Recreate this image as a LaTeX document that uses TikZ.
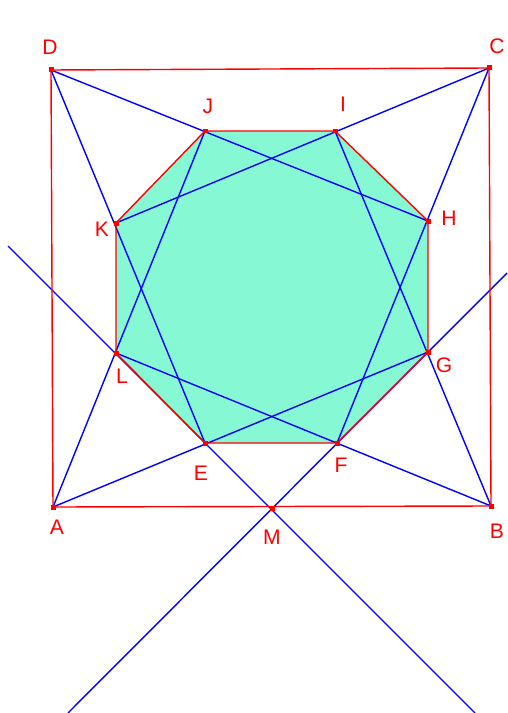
\documentclass[tikz,border=0pt]{standalone}
\usepackage{fontspec}
\setmainfont{Liberation Sans}
\definecolor{mint}{RGB}{134,248,212}
\tikzset{
  ptmark/.style={fill=red, inner sep=0pt, minimum size=1mm},
  ptlabel/.style={text=red, font=\fontsize{12}{14}\selectfont, inner sep=0pt},
  redline/.style={red, line width=0.8pt},
  blueline/.style={blue, line width=0.8pt}
}
\begin{document}
\begin{tikzpicture}[x=0.02cm,y=-0.02cm]
  \useasboundingbox (0,0) rectangle (507,713);
  % the square ABCD
  \coordinate (A) at (53,507);
  \coordinate (B) at (491,506);
  \coordinate (C) at (489,68);
  \coordinate (D) at (51,70);
  \coordinate (M) at (272,508);
  % the octagon
  \coordinate (J) at (205,131);
  \coordinate (I) at (335,131);
  \coordinate (H) at (428,221);
  \coordinate (G) at (428,352);
  \coordinate (F) at (337,443);
  \coordinate (E) at (205,443);
  \coordinate (L) at (116,353);
  \coordinate (K) at (116,223);
  % ends of the two long lines
  \coordinate (U1) at (8,246);
  \coordinate (U2) at (475,713);
  \coordinate (V1) at (68,713);
  \coordinate (V2) at (507,273);
  \fill[mint] (J) -- (I) -- (H) -- (G) -- (F) -- (E) -- (L) -- (K) -- cycle;
  % blue lines
  \draw[blueline] (D) -- (H);
  \draw[blueline] (D) -- (E);
  \draw[blueline] (C) -- (K);
  \draw[blueline] (C) -- (F);
  \draw[blueline] (B) -- (L);
  \draw[blueline] (B) -- (I);
  \draw[blueline] (A) -- (G);
  \draw[blueline] (A) -- (J);
  \draw[blueline] (U1) -- (U2);
  \draw[blueline] (V1) -- (V2);
  % red outlines
  \draw[redline] (A) -- (B) -- (C) -- (D) -- cycle;
  \draw[redline] (J) -- (I) -- (H) -- (G) -- (F) -- (E) -- (L) -- (K) -- cycle;
  % points
  \node[ptmark] (mA) at (A) {};
  \node[ptmark] (mB) at (B) {};
  \node[ptmark] (mC) at (C) {};
  \node[ptmark] (mD) at (D) {};
  \node[ptmark] (mM) at (M) {};
  \node[ptmark] (mJ) at (J) {};
  \node[ptmark] (mI) at (I) {};
  \node[ptmark] (mH) at (H) {};
  \node[ptmark] (mG) at (G) {};
  \node[ptmark] (mF) at (F) {};
  \node[ptmark] (mE) at (E) {};
  \node[ptmark] (mL) at (L) {};
  \node[ptmark] (mK) at (K) {};
  % labels
  \node[ptlabel] (lD) at (50,47) {D};
  \node[ptlabel] (lC) at (497,46) {C};
  \node[ptlabel] (lJ) at (208,106) {J};
  \node[ptlabel] (lI) at (343,104) {I};
  \node[ptlabel] (lH) at (449,218) {H};
  \node[ptlabel] (lK) at (102,229) {K};
  \node[ptlabel] (lG) at (444,365) {G};
  \node[ptlabel] (lL) at (122,376) {L};
  \node[ptlabel] (lE) at (201,473) {E};
  \node[ptlabel] (lF) at (341,465) {F};
  \node[ptlabel] (lA) at (57,527) {A};
  \node[ptlabel] (lM) at (272,537) {M};
  \node[ptlabel] (lB) at (497,531) {B};
\end{tikzpicture}
\end{document}
